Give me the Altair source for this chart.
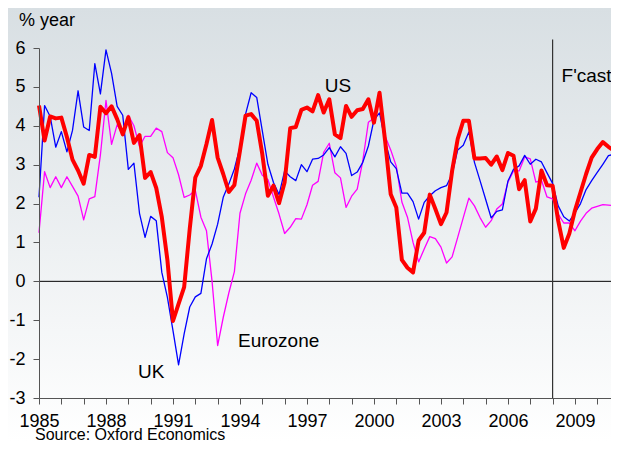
import altair as alt
import pandas as pd

# Quarterly GDP growth, % year, 1985Q1 .. 2010Q4 (forecast from 2008Q1)
us = [4.52, 3.62, 4.24, 4.19, 4.21, 3.71, 3.13, 2.85, 2.51, 3.25, 3.20, 4.49,
      4.32, 4.50, 4.17, 3.78, 4.22, 3.56, 3.76, 2.66, 2.81, 2.40, 1.65, 0.55,
      -1.02, -0.58, -0.15, 1.35, 2.67, 2.97, 3.53, 4.15, 3.18, 2.76, 2.30, 2.48,
      3.36, 4.26, 4.30, 4.13, 3.27, 2.20, 2.46, 2.01, 2.55, 3.94, 3.97, 4.41,
      4.47, 4.37, 4.79, 4.34, 4.68, 3.78, 3.68, 4.51, 4.23, 4.40, 4.43, 4.68,
      4.08, 4.85, 3.61, 2.24, 1.90, 0.55, 0.35, 0.23, 1.05, 1.25, 2.23, 1.86,
      1.47, 1.77, 2.84, 3.66, 4.13, 4.13, 3.16, 3.16, 3.17, 3.00, 3.21, 2.86,
      3.30, 3.23, 2.37, 2.60, 1.54, 1.87, 2.85, 2.47, 2.46, 1.56, 0.86, 1.23,
      1.82, 2.29, 2.76, 3.18, 3.40, 3.58, 3.46, 3.36]
uk = [2.16, 4.52, 4.24, 3.45, 3.85, 3.33, 3.88, 4.90, 3.97, 3.88, 5.60, 4.82,
      5.95, 5.35, 4.50, 4.27, 2.88, 3.04, 1.75, 1.13, 1.67, 1.56, 0.23, -0.41,
      -1.27, -2.15, -1.35, -0.66, -0.40, -0.31, 0.58, 0.96, 1.47, 2.16, 2.50, 2.89,
      3.45, 4.30, 4.85, 4.73, 3.87, 3.01, 2.54, 2.23, 2.84, 2.69, 2.59, 3.00,
      2.82, 3.14, 3.16, 3.25, 3.44, 3.20, 3.46, 3.29, 2.72, 2.81, 3.06, 3.48,
      4.15, 4.33, 3.61, 3.07, 2.90, 2.27, 2.27, 2.05, 1.60, 2.03, 2.20, 2.33,
      2.41, 2.46, 2.76, 3.38, 3.50, 3.84, 3.06, 2.59, 2.11, 1.63, 1.80, 1.84,
      2.58, 2.88, 2.97, 3.24, 3.01, 3.14, 3.07, 2.79, 2.52, 1.94, 1.66, 1.55,
      1.76, 2.00, 2.36, 2.59, 2.80, 3.01, 3.23, 3.27]
ez = [1.25, 2.82, 2.41, 2.69, 2.41, 2.69, 2.44, 2.19, 1.58, 2.12, 2.18, 3.25,
      4.65, 3.52, 4.03, 3.78, 4.27, 4.00, 3.47, 3.73, 3.73, 3.94, 3.85, 3.31,
      3.18, 2.74, 2.16, 2.22, 2.34, 1.65, 1.30, 0.00, -1.65, -0.93, -0.30, 0.25,
      1.75, 2.25, 2.60, 3.04, 2.73, 2.62, 2.17, 1.73, 1.23, 1.39, 1.61, 1.60,
      1.97, 2.47, 2.57, 3.32, 3.55, 2.79, 2.66, 1.90, 2.19, 2.37, 3.10, 4.09,
      4.20, 4.61, 3.73, 3.38, 2.96, 2.04, 1.65, 1.00, 0.50, 0.83, 1.15, 1.10,
      0.88, 0.47, 0.63, 1.13, 1.64, 2.14, 1.94, 1.64, 1.39, 1.56, 1.86, 1.99,
      2.55, 2.84, 2.84, 3.20, 3.15, 2.55, 2.60, 2.17, 2.12, 1.73, 1.50, 1.50,
      1.30, 1.55, 1.75, 1.88, 1.93, 1.97, 1.96, 1.95]

start_year = 1985
quarters = [start_year + i / 4 for i in range(len(us))]
year_ticks = list(range(1985, 2011))
y_ticks = list(range(-3, 7))
forecast_start = 2008

labels = ["US", "UK", "Eurozone", "F'cast"]
label_x = [1997.8, 1989.43, 1993.91, 2008.4]
label_y = [4.87, -2.49, -1.68, 5.13]

FONT = "Liberation Sans"
W, H = 572, 350

x_scale = alt.Scale(domain=[1985, 2010.615], nice=False, zero=False)
y_scale = alt.Scale(domain=[-3, 6], nice=False, zero=False)

x_axis = alt.Axis(values=year_ticks, format="d",
                  labelExpr="(datum.value - 1985) % 3 == 0 ? datum.label : ''",
                  title=None, grid=False, tickSize=6, labelPadding=8,
                  labelFontSize=18, labelFont=FONT, labelColor="#000",
                  domainColor="#555", tickColor="#555", labelFlush=False,
                  labelOverlap=False, zindex=1)
y_axis = alt.Axis(values=y_ticks, labelExpr="'' + datum.value", title=None, grid=False,
                  tickSize=6, labelPadding=8, labelFontSize=18, labelFont=FONT,
                  labelColor="#000", domainColor="#555", tickColor="#555",
                  labelOverlap=False, zindex=1)

df = pd.DataFrame({"t": quarters, "US": us, "UK": uk, "EZ": ez})

bg = alt.Chart(pd.DataFrame({"a": [0]})).mark_rect(
    color=alt.LinearGradient(
        gradient="linear", x1=0, y1=0, x2=0, y2=1,
        stops=[alt.GradientStop(color="#d8dfe3", offset=0),
               alt.GradientStop(color="#ffffff", offset=1)])
).encode(x=alt.value(-31), x2=alt.value(W), y=alt.value(-40), y2=alt.value(H + 44))

zero = alt.Chart(pd.DataFrame({"y": [0]})).mark_rule(color="#000", strokeWidth=1).encode(
    y=alt.Y("y:Q", scale=y_scale, axis=y_axis))

fc = alt.Chart(pd.DataFrame({"x": [forecast_start], "y": [-3], "y2": [6.22]})).mark_rule(
    color="#333", strokeWidth=1.2, clip=False).encode(
    x=alt.X("x:Q", scale=x_scale, axis=x_axis),
    y=alt.Y("y:Q", scale=y_scale, axis=y_axis), y2="y2:Q")

def line(col, color, width):
    return alt.Chart(df).mark_line(color=color, strokeWidth=width, strokeJoin="round").encode(
        x=alt.X("t:Q", scale=x_scale, axis=x_axis),
        y=alt.Y(f"{col}:Q", scale=y_scale, axis=y_axis))

ez_line = line("EZ", "#ff00ff", 1.3)
uk_line = line("UK", "#0000ff", 1.3)
us_line = line("US", "#ff0000", 4)

ann = alt.Chart(pd.DataFrame({"label": labels, "x": label_x, "y": label_y})).mark_text(
    align="left", baseline="alphabetic", fontSize=19, font=FONT, color="#000").encode(
    x=alt.X("x:Q", scale=x_scale, axis=x_axis),
    y=alt.Y("y:Q", scale=y_scale, axis=y_axis), text="label:N")

unit = alt.Chart(pd.DataFrame({"t": ["% year"]})).mark_text(
    align="left", baseline="alphabetic", fontSize=18, font=FONT, color="#000").encode(
    x=alt.value(-20), y=alt.value(-22), text="t:N")

src = alt.Chart(pd.DataFrame({"t": ["Source: Oxford Economics"]})).mark_text(
    align="left", baseline="alphabetic", fontSize=16, font=FONT, color="#000").encode(
    x=alt.value(-4), y=alt.value(H + 42), text="t:N")

chart = alt.layer(bg, zero, fc, ez_line, uk_line, us_line, ann, unit, src).properties(
    width=W, height=H,
    autosize=alt.AutoSizeParams(type="none"),
    padding={"left": 31, "top": 40, "right": 0, "bottom": 44},
).configure_view(stroke=None)

chart.save("out.html", embed_options={"renderer": "svg", "actions": False})
